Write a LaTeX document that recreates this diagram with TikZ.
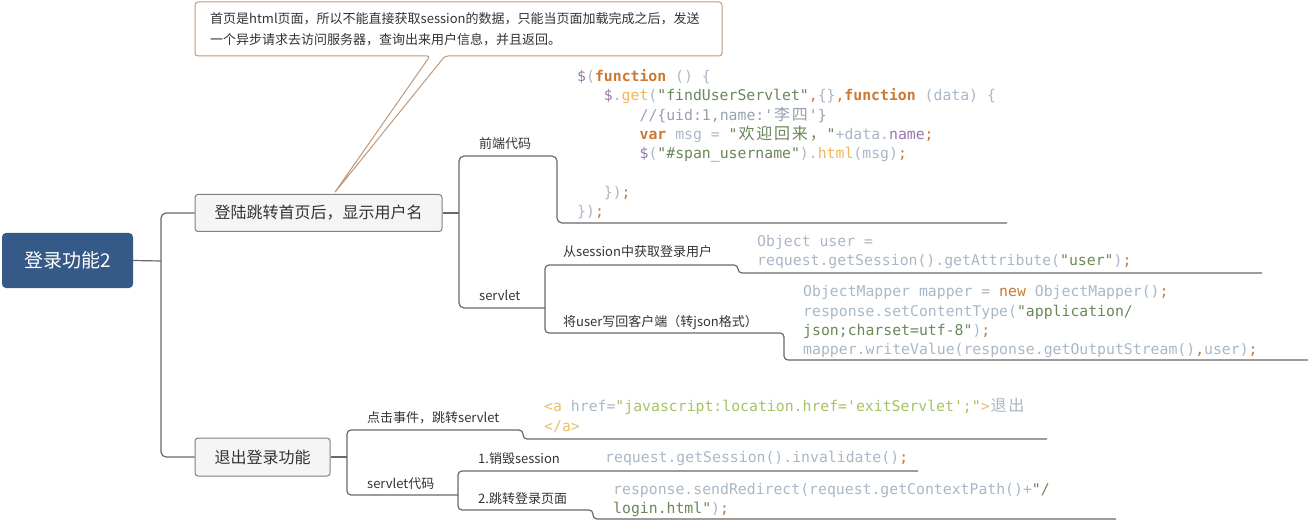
\documentclass[tikz,border=0pt]{standalone}
\usepackage{fontspec}
\setmainfont{Noto Sans CJK SC}
\newfontfamily\cjk{Noto Sans CJK SC}
\setmonofont{DejaVu Sans Mono}
\usetikzlibrary{calc}
\definecolor{rootc}{RGB}{53,90,135}
\definecolor{boxf}{RGB}{245,245,245}
\definecolor{boxb}{RGB}{128,128,128}
\definecolor{linec}{RGB}{105,105,105}
\definecolor{txt}{RGB}{51,51,51}
\definecolor{notec}{RGB}{192,152,122}
\definecolor{cid}{RGB}{169,183,198}
\definecolor{ckw}{RGB}{204,120,50}
\definecolor{cstr}{RGB}{106,135,89}
\definecolor{cpu}{RGB}{152,118,170}
\definecolor{cfn}{RGB}{240,182,90}
\definecolor{ctag}{RGB}{232,191,106}
\definecolor{catt}{RGB}{165,194,97}
\definecolor{ccom}{RGB}{150,160,175}
\newcommand\Cid[1]{\textcolor{cid}{#1}}
\newcommand\Ckw[1]{\textcolor{ckw}{#1}}
\newcommand\Cstr[1]{\textcolor{cstr}{#1}}
\newcommand\Cpu[1]{\textcolor{cpu}{#1}}
\newcommand\Cfn[1]{\textcolor{cfn}{#1}}
\newcommand\Ctag[1]{\textcolor{ctag}{#1}}
\newcommand\Catt[1]{\textcolor{catt}{#1}}
\newcommand\Ccom[1]{\textcolor{ccom}{#1}}
\newcommand\cc[1]{\makebox[17.82pt]{\cjk\fontsize{16}{16}\selectfont #1}}
\tikzset{
  conn/.style={draw=linec, line width=1.2pt, rounded corners=5pt},
  conns/.style={draw=linec, line width=1.2pt, rounded corners=4pt},
  lbl/.style={anchor=base west, inner sep=0pt, text=txt, font=\cjk\fontsize{13}{15}\selectfont},
  codetxt/.style={anchor=base west, inner sep=0pt, text=cid, font=\ttfamily\fontsize{14.8}{19}\selectfont},
  topic/.style={draw=boxb, fill=boxf, rounded corners=3pt, line width=1pt, text=txt, inner sep=0pt, font=\cjk\fontsize{16}{18}\selectfont},
  rootbox/.style={fill=rootc, rounded corners=4pt, text=white, inner sep=0pt, font=\cjk\fontsize{19}{21}\selectfont},
  notetxt/.style={anchor=west, inner sep=0pt, align=left, text=txt, font=\cjk\fontsize{13}{20.5}\selectfont},
  noteline/.style={draw=notec, fill=white, line width=1pt, rounded corners=3pt}
}
\begin{document}
\begin{tikzpicture}[x=1pt,y=-1pt]
\useasboundingbox (0,0) rectangle (1308,521);
% main topics
\node[rootbox, minimum width=131pt, minimum height=55pt] (root) at (67.5,260.5) {登录功能2};
\node[topic, minimum width=247pt, minimum height=37pt] (b1) at (318.5,213) {登陆跳转首页后，显示用户名};
\node[topic, minimum width=135pt, minimum height=38pt] (b2) at (262.5,457) {退出登录功能};
% callout
\coordinate (tip) at ($(b1.north)+(15.5,-0.5)$);
\draw[noteline] (458,2) -- (195,2) -- (195,56) -- (430,56) -- (tip) -- (445,56) -- (722,56) -- (722,2) -- cycle;
\node[notetxt] (note) at (210,29) {首页是html页面，所以不能直接获取session的数据，只能当页面加载完成之后，发送\\一个异步请求去访问服务器，查询出来用户信息，并且返回。};
% root connectors
\coordinate (j1) at (161,261);
\draw[conn] (root.east) -- (j1);
\draw[conn] (b1.west) -| (j1) |- (b2.west);
% first topic branches
\coordinate (j2) at (459,213);
\coordinate (feE) at (1007,223);
\coordinate (svJ) at (545,308);
\draw[conn] (b1.east) -- (j2);
\draw[conn] (feE) -| (557,156) -| (j2) |- (svJ);
\coordinate (s1E) at (1262,273);
\coordinate (s2E) at (1308,360);
\draw[conns] (s1E) -| (738,265) -| (svJ) |- (784,333) |- (s2E);
% second topic branches
\coordinate (j3) at (347,457);
\coordinate (cE) at (1047,439);
\coordinate (scJ) at (458,495);
\draw[conn] (b2.east) -- (j3);
\draw[conns] (cE) -| (523,430) -| (j3) |- (scJ);
\coordinate (d1E) at (918,471);
\coordinate (d2E) at (1116,519);
\draw[conns] (d1E) -| (scJ) |- (593,510) |- (d2E);
% labels
\node[lbl] (lfe) at (479,149) {前端代码};
\node[lbl] (lsv) at (479,300) {servlet};
\node[lbl] (ls1) at (563,256) {从session中获取登录用户};
\node[lbl] (ls2) at (563,326) {将user写回客户端（转json格式）};
\node[lbl] (lc) at (367,422.5) {点击事件，跳转servlet};
\node[lbl] (lsc) at (367,488.5) {servlet代码};
\node[lbl] (ld1) at (478,463) {1.销毁session};
\node[lbl] (ld2) at (478,503) {2.跳转登录页面};
% front-end code
\node[codetxt] (f1) at (577,81.5) {\Cpu{\$}\Cid{(}\Ckw{\textbf{function}}\Cid{\ () \{}};
\node[codetxt] (f2) at (603.7,100.8) {\Cpu{\$}\Cid{.}\Cfn{get}\Cid{(}\Cstr{"findUserServlet"}\Ckw{,}\Cid{\{\}}\Ckw{,}\Ckw{\textbf{function}}\Cid{\ (data) \{}};
\node[codetxt] (f3) at (639.4,120.1) {\Ccom{//\{uid:1,name:'\cc{李}\cc{四}'\}}};
\node[codetxt] (f4) at (639.4,139.4) {\Ckw{\textbf{var}}\Cid{\ msg =\ }\Cstr{"\cc{欢}\cc{迎}\cc{回}\cc{来}\cc{，}"}\Cid{+data.}\Cpu{name}\Ckw{;}};
\node[codetxt] (f5) at (639.4,158.7) {\Cpu{\$}\Cid{(}\Cstr{"\#span\_username"}\Cid{).}\Cfn{html}\Cid{(msg)}\Ckw{;}};
\node[codetxt] (f7) at (603.7,197.3) {\Cid{\})}\Ckw{;}};
\node[codetxt] (f8) at (577,216.6) {\Cid{\})}\Ckw{;}};
% servlet code
\node[codetxt] (s1a) at (757,246.5) {\Cid{Object user =}};
\node[codetxt] (s1b) at (757,265.8) {\Cid{request.getSession().getAttribute(}\Cstr{"user"}\Cid{)}\Ckw{;}};
\node[codetxt] (s2a) at (803,296.7) {\Cid{ObjectMapper mapper =\ }\Ckw{new}\Cid{\ ObjectMapper()}\Ckw{;}};
\node[codetxt] (s2b) at (803,316) {\Cid{response.setContentType(}\Cstr{"application/}};
\node[codetxt] (s2c) at (803,335.3) {\Cstr{json;charset=utf-8"}\Cid{)}\Ckw{;}};
\node[codetxt] (s2d) at (803,354.6) {\Cid{mapper.writeValue(response.getOutputStream()}\Ckw{,}\Cid{user)}\Ckw{;}};
% exit code
\node[codetxt] (e1a) at (544,411.7) {\Ctag{<a}\Cid{\ href=}\Catt{"javascript:location.href='exitServlet';"}\Ctag{>}\Cid{\cc{退}\cc{出}}};
\node[codetxt] (e1b) at (544,431) {\Ctag{</a>}};
\node[codetxt] (e2) at (605,462.7) {\Cid{request.getSession().invalidate()}\Ckw{;}};
\node[codetxt] (e3a) at (613,494) {\Cid{response.sendRedirect(request.getContextPath()+}\Cstr{"/}};
\node[codetxt] (e3b) at (613,513.3) {\Cstr{login.html"}\Cid{)}\Ckw{;}};
\end{tikzpicture}
\end{document}
